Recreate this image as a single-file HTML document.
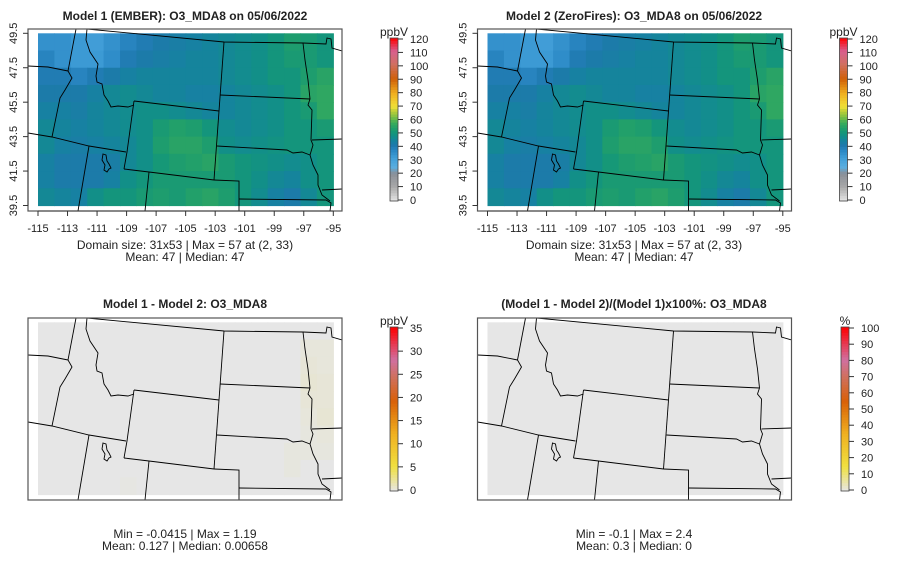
<!DOCTYPE html>
<html><head><meta charset="utf-8"><style>
body{margin:0;background:#fff}
svg{display:block;font-family:"Liberation Sans",sans-serif}
</style></head><body>
<svg id="c" width="900" height="579" viewBox="0 0 900 579" xmlns="http://www.w3.org/2000/svg"></svg>
<script>
// Coarse O3 grid (ppbV), rows north->south (lat 49.5..39.5), cols west->east (lon -115..-95)
const o3Row0=[35,35,33,32,35,38,40,42,43,44,45,46,47,48,50,53,52,50];
const o3Row1=[38,35,33,33,36,40,42,43,44,45,45,46,47,48,50,52,52,50];
const o3Row2=[40,40,38,40,42,44,45,45,45,45,45,46,47,48,50,50,53,55];
const o3Row3=[42,42,42,44,46,47,46,45,45,44,44,45,46,47,48,50,55,56];
const o3Row4=[44,44,43,45,46,47,48,48,47,46,45,45,46,47,48,50,52,56];
const o3Row5=[46,45,44,45,46,47,48,52,54,53,50,47,46,47,48,50,50,52];
const o3Row6=[46,44,43,44,45,46,48,53,55,55,53,48,47,48,49,50,50,50];
const o3Row7=[44,42,42,42,43,46,48,51,53,54,55,52,50,49,48,47,48,50];
const o3Row8=[44,42,42,42,44,48,50,52,52,52,52,52,50,48,46,45,48,50];
const o3Row9=[46,45,44,48,50,50,52,53,52,54,55,53,50,47,44,42,46,50];
const o3Grid=[o3Row0,o3Row1,o3Row2,o3Row3,o3Row4,o3Row5,o3Row6,o3Row7,o3Row8,o3Row9];
// Difference grid (ppbV), mostly ~0, slight positives on east edge
const dRow0=[0,0,0,0,0,0,0,0,0,0,0,0,0,0,0,0,0,0];
const dRow1=[0,0,0,0,0,0,0,0,0,0,0,0,0,0,0,0,0.3,0.3];
const dRow2=[0,0,0,0,0,0,0,0,0,0,0,0,0,0,0,0,0.4,0.3];
const dRow3=[0,0,0,0,0,0,0,0,0,0,0,0,0,0,0,0,0.5,0.4];
const dRow4=[0,0,0,0,0,0,0,0,0,0,0,0,0,0,0,0,0.4,0.4];
const dRow5=[0,0,0,0,0,0,0,0,0,0,0,0,0,0,0,0,0.3,0.5];
const dRow6=[0,0,0,0,0,0,0,0,0,0,0,0,0,0,0,0,0.2,0.3];
const dRow7=[0,0,0,0,0,0,0,0,0,0,0,0,0,0,0,0.2,0.2,0.2];
const dRow8=[0,0,0,0,0,0,0,0,0,0,0,0,0,0,0,0.2,0,0];
const dRow9=[0,0,0,0,0,0.1,0,0,0,0,0,0,0,0,0,0,0,0];
const dGrid=[dRow0,dRow1,dRow2,dRow3,dRow4,dRow5,dRow6,dRow7,dRow8,dRow9];
const lonTicks=[-115,-113,-111,-109,-107,-105,-103,-101,-99,-97,-95];
const latTicks=[39.5,41.5,43.5,45.5,47.5,49.5];
const o3BarTicks=[0,10,20,30,40,50,60,70,80,90,100,110,120];
const dBarTicks=[0,5,10,15,20,25,30,35];
const pBarTicks=[0,10,20,30,40,50,60,70,80,90,100];

const NS="http://www.w3.org/2000/svg";
const svg=document.getElementById('c');
function el(t,a,p){const e=document.createElementNS(NS,t);for(const k in a)e.setAttribute(k,a[k]);(p||svg).appendChild(e);return e;}
function hex(h){return [parseInt(h.slice(1,3),16),parseInt(h.slice(3,5),16),parseInt(h.slice(5,7),16)];}
function ramp(stops,t){t=Math.max(0,Math.min(1,t));for(let i=1;i<stops.length;i++){if(t<=stops[i][0]){const a=stops[i-1],b=stops[i];const f=(t-a[0])/(b[0]-a[0]||1);const ca=hex(a[1]),cb=hex(b[1]);return 'rgb('+ca.map((v,j)=>Math.round(v+(cb[j]-v)*f)).join(',')+')';}}return stops[stops.length-1][1];}
const o3Stops=[[0,'#e6e6e6'],[0.09,'#a8a8a8'],[0.17,'#8a8f98'],[0.21,'#5aaee0'],[0.27,'#3f9cd6'],[0.31,'#2a88c4'],[0.34,'#1f78ae'],[0.37,'#1682a0'],[0.395,'#128d8c'],[0.42,'#14967a'],[0.45,'#22a06a'],[0.48,'#3aac5c'],[0.51,'#70bc48'],[0.55,'#b8cc38'],[0.58,'#f0e038'],[0.66,'#f0b020'],[0.75,'#d06008'],[0.84,'#d07060'],[0.92,'#d86090'],[1,'#ff0000']];
const warmStops=[[0,'#e6e6e6'],[0.15,'#f0e040'],[0.35,'#f0b020'],[0.55,'#d86008'],[0.7,'#d07060'],[0.8,'#d070a0'],[1,'#ff0000']];

const X0=38,X1=333.3,Y0=33.3,Y1=205.5;
const lonToX=lon=>X0+(lon+115)/20*(X1-X0);
const latToY=lat=>Y0+(49.5-lat)/10*(Y1-Y0);

const borders=[
[[76,29],[68,71]],
[[28,66],[48,67],[68,71]],
[[87,29],[86,40],[90,52],[98,64],[96,76],[97,82],[102,84],[104,95],[108,101],[111,107],[118,106],[128,107],[134,105]],
[[68,71],[72,78],[65,90],[60,98],[52,137]],
[[28,133],[52,137],[89,146],[126,152]],
[[89,146],[78,211]],
[[134,101],[219,111]],[[134,101],[127,152],[124,169]],
[[124,169],[149,172],[214,180]],
[[149,172],[145,211]],
[[214,180],[239,181],[239,211]],
[[87,29],[224,42],[303,43],[326,44],[327,38],[331,39],[332,48],[342,51]],
[[224,42],[219,111],[214,180]],
[[220,95],[310,99]],
[[217,146],[287,150],[293,153],[302,152],[310,155]],
[[239,199],[326,200],[331,203],[330,211]],
[[303,43],[305,60],[308,80],[310,99],[308,105],[312,110],[311,140],[313,145],[310,155],[313,165],[318,175],[318,185],[322,195],[330,201]],
[[312,140],[342,139]],[[322,190],[342,189]]
];
const lake=[[103,154],[106,155],[107,161],[109,164],[111,168],[109,169],[107,172],[104,170],[105,165],[102,160]];

function drawPanel(ox,oy,grid,colorFn,axes,name){
  const g=el('g',{transform:`translate(${ox},${oy})`});
  
  
  const cid='clip'+name;
  const cp=el('clipPath',{id:cid},g);el('rect',{x:28,y:29,width:314,height:182},cp);
  const nr=grid.length,nc=grid[0].length;
  const cw=(X1-X0)/nc,ch=(Y1-Y0)/nr;
  const cells=el('g',{},g);
  
  
  grid.forEach((row,r)=>row.forEach((v,c)=>{
    const lon=-115+c*20/nc, lat=49.5-r*10/nr;
    const x=lonToX(lon),y=latToY(lat);
    const rc=el('rect',{x:x.toFixed(2),y:y.toFixed(2),width:(cw+0.6).toFixed(2),height:(ch+0.6).toFixed(2),fill:colorFn(v)},cells);
    
  }));
  const bg=el('g',{'clip-path':`url(#${cid})`,fill:'none',stroke:'#000','stroke-width':0.9},g);
  
  
  borders.forEach(b=>el('polyline',{points:b.map(p=>p.join(',')).join(' ')},bg));
  el('polygon',{points:lake.map(p=>p.join(',')).join(' ')},bg);
  const box=el('rect',{x:28,y:29,width:314,height:182,fill:'none',stroke:'#555','stroke-width':1.2},g);
  
  if(axes){
    const ax=el('g',{},g);
    
    
    el('line',{x1:lonToX(-115),x2:lonToX(-95),y1:211,y2:211,stroke:'#333'},ax);
    lonTicks.forEach(l=>{const x=lonToX(l);el('line',{x1:x,x2:x,y1:211,y2:216,stroke:'#333'},ax);
      const t=el('text',{x:x,y:232,'font-size':11,'text-anchor':'middle',fill:'#222'},ax);t.textContent=l;});
    el('line',{x1:28,x2:28,y1:latToY(39.5),y2:latToY(49.5),stroke:'#333'},ax);
    latTicks.forEach(l=>{const y=latToY(l);el('line',{x1:23,x2:28,y1:y,y2:y,stroke:'#333'},ax);
      const t=el('text',{x:17,y:y,'font-size':11,'text-anchor':'middle',fill:'#222',transform:`rotate(-90 17 ${y})`},ax);t.textContent=l.toFixed(1);});
  }
  return g;
}
function drawBar(x,yTop,yBot,ticks,stops,unit,name){
  const g=el('g',{});
  
  
  const n=60,h=(yBot-yTop)/n;
  for(let i=0;i<n;i++){el('rect',{x:x,y:yBot-(i+1)*h,width:8,height:h+0.4,fill:ramp(stops,(i+0.5)/n)},g);}
  el('rect',{x:x,y:yTop,width:8,height:yBot-yTop,fill:'none',stroke:'#444','stroke-width':0.8},g);
  const max=ticks[ticks.length-1];
  ticks.forEach(t=>{const y=yBot-1-(t/max)*(yBot-yTop-2);el('line',{x1:x+8,x2:x+13,y1:y,y2:y,stroke:'#333'},g);
    const tx=el('text',{x:x+20,y:y+4,'font-size':11,fill:'#222'},g);tx.textContent=t;});
  const u=el('text',{x:x+4,y:yTop-2,'font-size':12,'text-anchor':'middle',fill:'#222'},g);u.textContent=unit;
}
function txt(x,y,s,bold,name){const t=el('text',{x:x,y:y,'font-size':12,'font-weight':bold?'bold':'normal','text-anchor':'middle',fill:'#222'});t.textContent=s;}

const o3c=v=>ramp(o3Stops,v/120);
const dc=v=>ramp(warmStops,Math.max(0,v)/35*1.2);
const pc=v=>ramp(warmStops,Math.max(0,v)/100*4);
drawPanel(0,0,o3Grid,o3c,true,'map-model1');
drawPanel(449.5,0,o3Grid,o3c,true,'map-model2');
drawPanel(0,289,dGrid,dc,false,'map-difference');
drawPanel(449.5,289,dGrid.map(r=>r.map(v=>0)),pc,false,'map-percent-difference');
drawBar(390,38,201,o3BarTicks,o3Stops,'ppbV','colorbar-model1');
drawBar(839.5,38,201,o3BarTicks,o3Stops,'ppbV','colorbar-model2');
drawBar(390,327,491,dBarTicks,warmStops,'ppbV','colorbar-difference');
drawBar(841,327,491,pBarTicks,warmStops,'%','colorbar-percent');
txt(185,20,'Model 1 (EMBER): O3_MDA8 on 05/06/2022',true,'title-model1');
txt(634,20,'Model 2 (ZeroFires): O3_MDA8 on 05/06/2022',true,'title-model2');
txt(185,308,'Model 1 - Model 2: O3_MDA8',true,'title-difference');
txt(634,308,'(Model 1 - Model 2)/(Model 1)x100%: O3_MDA8',true,'title-percent');
txt(185,249,'Domain size: 31x53 | Max = 57 at (2, 33)',false,'stats-model1-line1');
txt(185,261,'Mean: 47 |  Median: 47',false,'stats-model1-line2');
txt(634,249,'Domain size: 31x53 | Max = 57 at (2, 33)',false,'stats-model2-line1');
txt(634,261,'Mean: 47 |  Median: 47',false,'stats-model2-line2');
txt(185,538,'Min = -0.0415 | Max = 1.19',false,'stats-diff-line1');
txt(185,550,'Mean: 0.127 |  Median: 0.00658',false,'stats-diff-line2');
txt(634,538,'Min = -0.1 | Max = 2.4',false,'stats-pct-line1');
txt(634,550,'Mean: 0.3 |  Median: 0',false,'stats-pct-line2');
</script>
</body></html>
